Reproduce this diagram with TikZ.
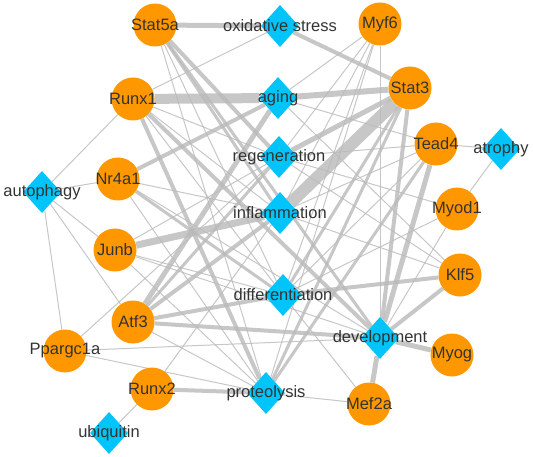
\documentclass[tikz,border=0pt]{standalone}
\usepackage{fontspec}
\setmainfont{Liberation Sans}
\usetikzlibrary{shapes.geometric}
\pgfdeclarelayer{background}
\pgfsetlayers{background,main}
\definecolor{gorange}{RGB}{255,152,0}
\definecolor{pcyan}{RGB}{0,196,250}
\definecolor{edgegray}{RGB}{185,185,185}
\definecolor{txt}{RGB}{51,51,51}
\tikzset{
  gene/.style={circle, fill=gorange, draw=none, minimum size=43pt, inner sep=0pt},
  proc/.style={diamond, fill=pcyan, draw=none, minimum width=38pt, minimum height=42pt, inner sep=0pt, aspect=0.9},
  lbl/.style={text=txt, font=\fontsize{16.5}{18}\selectfont, inner sep=0pt},
  edge/.style={draw=edgegray, opacity=0.8, line cap=butt},
}
\begin{document}
\begin{tikzpicture}[x=1pt,y=-1pt]
\useasboundingbox (0,0) rectangle (533,457);
% genes
\foreach \n/\x/\y/\t in {Stat5a/155/25/Stat5a, Runx1/133/99/Runx1, Nr4a1/118/179/Nr4a1, Junb/115/250/Junb, Atf3/133/322/Atf3, Ppargc1a/65/351/Ppargc1a, Runx2/152/389/Runx2, Myf6/380/24/Myf6, Stat3/410/88/Stat3, Tead4/436/144/Tead4, Myod1/457/209/Myod1, Klf5/460/275/Klf5, Myog/452/355/Myog, Mef2a/369/404/Mef2a}
  \node[gene, label={[lbl]center:\t}] (\n) at (\x,\y) {};
% processes
\foreach \n/\x/\y/\t in {oxs/280/26/oxidative stress, aging/278/98/aging, regen/279/157/regeneration, infl/280/213/inflammation, diff/283/295/differentiation, dev/380/338/development, prot/266/393/proteolysis, auto/42/192/autophagy, atro/501/149/atrophy, ubiq/109/433/ubiquitin}
  \node[proc, label={[lbl]center:\t}] (\n) at (\x,\y) {};
\begin{pgfonlayer}{background}
\foreach \a/\b/\w in {
  Stat5a/oxs/5, Stat5a/regen/4, Stat5a/infl/3, Stat5a/dev/3, Stat5a/diff/1, Stat5a/prot/1,
  Runx1/aging/10, Runx1/auto/1, Runx1/oxs/1, Runx1/prot/4, Runx1/dev/4, Runx1/diff/1, Runx1/infl/1, Runx1/regen/1,
  Nr4a1/aging/4, Nr4a1/auto/1, Nr4a1/infl/1, Nr4a1/diff/3, Nr4a1/dev/1, Nr4a1/prot/1,
  Junb/infl/7, Junb/auto/1, Junb/regen/1, Junb/diff/1, Junb/dev/1, Junb/prot/1,
  Atf3/aging/5, Atf3/infl/4, Atf3/diff/4, Atf3/dev/4, Atf3/prot/1, Atf3/auto/1, Atf3/regen/3,
  Ppargc1a/auto/1, Ppargc1a/regen/1, Ppargc1a/dev/1, Ppargc1a/prot/1,
  Runx2/prot/4, Runx2/ubiq/1, Runx2/infl/1,
  Myf6/aging/1, Myf6/regen/1, Myf6/infl/1, Myf6/diff/1, Myf6/dev/1, Myf6/prot/1,
  Stat3/oxs/4, Stat3/aging/6, Stat3/regen/5, Stat3/infl/12, Stat3/diff/3, Stat3/dev/4, Stat3/prot/3,
  Tead4/aging/1, Tead4/regen/1, Tead4/atro/1, Tead4/infl/1, Tead4/diff/1, Tead4/dev/5, Tead4/prot/3,
  Myod1/atro/1, Myod1/regen/1, Myod1/diff/1, Myod1/dev/1,
  Klf5/diff/4, Klf5/dev/4, Klf5/infl/1, Klf5/regen/1, Klf5/aging/1,
  Myog/dev/5,
  Mef2a/dev/5, Mef2a/prot/1, Mef2a/diff/1}
  \draw[edge, line width=\w pt] (\a) -- (\b);
\end{pgfonlayer}
\end{tikzpicture}
\end{document}
